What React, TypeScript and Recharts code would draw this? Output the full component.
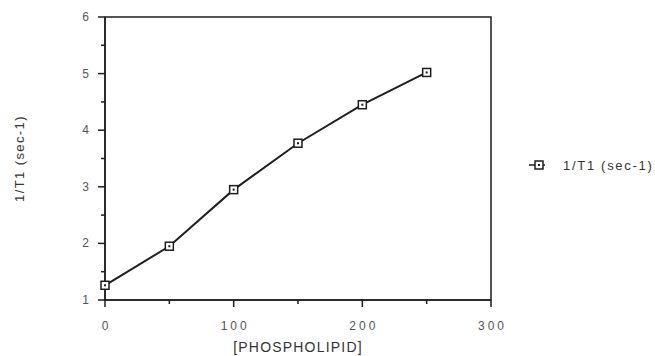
import React from "react";
import { LineChart, Line, XAxis, YAxis, ReferenceArea, Legend } from "recharts";

const phospholipid = [0, 50, 100, 150, 200, 250];
const invT1 = [1.26, 1.95, 2.95, 3.77, 4.45, 5.02];
const xTicks = [0, 50, 100, 150, 200, 250, 300];
const yTicks = [1, 1.5, 2, 2.5, 3, 3.5, 4, 4.5, 5, 5.5, 6];
const seriesName = "1/T1 (sec-1)";

const data = phospholipid.map((p, i) => ({ x: p, y: invT1[i] }));

const FONT = "'Liberation Sans', Arial, sans-serif";
const INK = "#1e1e1e";

const XTick = (props: any) => {
  const { x, y, payload } = props;
  const v = payload.value;
  const major = v % 100 === 0;
  return (
    <g>
      <line x1={x} y1={y} x2={x} y2={y + (major ? 7 : 4)} stroke={INK} strokeWidth={1.5} />
      {major && (
        <text x={x + 1.5} y={y + 30} textAnchor="middle" fontFamily={FONT} fontSize={12} letterSpacing={3} fill="#555">
          {v}
        </text>
      )}
    </g>
  );
};

const YTick = (props: any) => {
  const { x, y, payload } = props;
  const v = payload.value;
  const major = Number.isInteger(v);
  return (
    <g>
      <line x1={x} y1={y} x2={x - (major ? 7 : 4)} y2={y} stroke={INK} strokeWidth={1.5} />
      {major && (
        <text x={x - 16} y={y + 4} textAnchor="end" fontFamily={FONT} fontSize={12} fill="#555">
          {v}
        </text>
      )}
    </g>
  );
};

const SquareDot = (props: any) => {
  const { cx, cy } = props;
  if (cx == null || cy == null) return null;
  return (
    <g>
      <rect x={cx - 4} y={cy - 4} width={8} height={8} fill="#fff" stroke={INK} strokeWidth={1.5} />
      <rect x={cx - 1} y={cy - 1} width={2} height={2} fill={INK} />
    </g>
  );
};

const LegendContent = () => (
  <svg width={130} height={20}>
    <line x1={0} y1={10} x2={16} y2={10} stroke={INK} strokeWidth={1.5} />
    <rect x={6} y={6} width={8} height={8} fill="#fff" stroke={INK} strokeWidth={1.5} />
    <rect x={9} y={9} width={2} height={2} fill={INK} />
    <text x={34} y={14.5} fontFamily={FONT} fontSize={13} letterSpacing={1.7} fill="#333">
      {seriesName}
    </text>
  </svg>
);

export default function App() {
  return (
    <div style={{ position: "absolute", left: 0, top: 0, background: "#fff" }}>
      <LineChart width={655} height={356} data={data} margin={{ top: 17, right: 164, bottom: 26, left: 65 }}>
        <XAxis
          dataKey="x"
          type="number"
          domain={[0, 300]}
          ticks={xTicks}
          interval={0}
          tickSize={0}
          tickMargin={0}
          tick={<XTick />}
          axisLine={{ stroke: INK, strokeWidth: 1.5 }}
          tickLine={false}
          height={30}
          label={{
            value: "[PHOSPHOLIPID]",
            position: "insideBottom",
            offset: -22,
            style: { fontFamily: FONT, fontSize: 14, letterSpacing: 1.2, fill: "#333" },
          }}
        />
        <YAxis
          type="number"
          domain={[1, 6]}
          ticks={yTicks}
          interval={0}
          tickSize={0}
          tickMargin={0}
          tick={<YTick />}
          axisLine={{ stroke: INK, strokeWidth: 1.5 }}
          tickLine={false}
          width={40}
          label={{
            value: "1/T1 (sec-1)",
            angle: -90,
            position: "center",
            dx: -66,
            style: { fontFamily: FONT, fontSize: 13, letterSpacing: 1.4, fill: "#333", textAnchor: "middle" },
          }}
        />
        <ReferenceArea x1={0} x2={300} y1={1} y2={6} fill="none" stroke={INK} strokeWidth={1.5} fillOpacity={0} />
        <Legend
          layout="horizontal"
          verticalAlign="middle"
          align="center"
          content={<LegendContent />}
          wrapperStyle={{ position: "absolute", left: 529, top: 155, width: 130 }}
        />
        <Line
          dataKey="y"
          name={seriesName}
          stroke={INK}
          strokeWidth={2}
          dot={<SquareDot />}
          activeDot={false}
          isAnimationActive={false}
        />
      </LineChart>
    </div>
  );
}
